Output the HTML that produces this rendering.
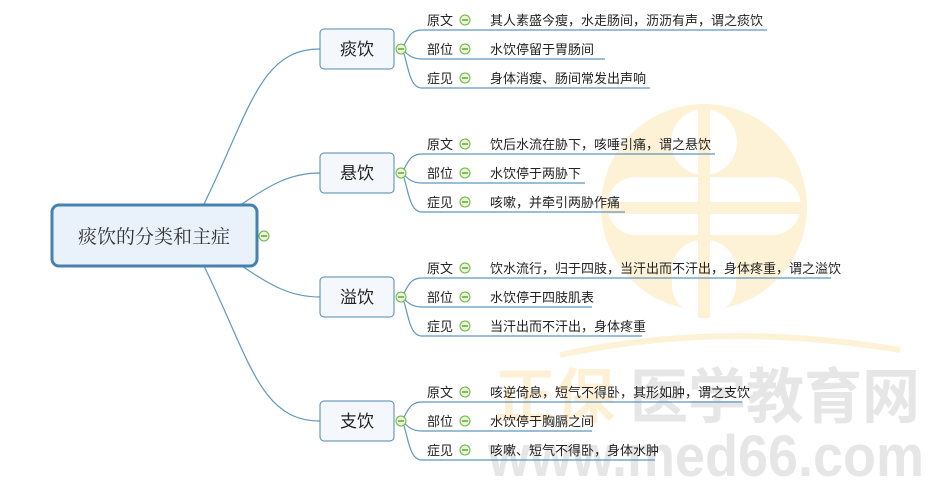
<!DOCTYPE html>
<html><head><meta charset="utf-8"><style>
html,body{margin:0;padding:0;background:#fff;}
svg{display:block;font-family:"Liberation Sans","Noto Sans CJK SC","WenQuanYi Zen Hei",sans-serif;}
</style></head><body>
<svg width="932" height="480" viewBox="0 0 932 480" xmlns="http://www.w3.org/2000/svg">
<g>
<circle cx="704" cy="207" r="103" fill="#fdf1d6"/>
<circle cx="704" cy="142" r="33" fill="#fff"/>
<rect x="607" y="177" width="194" height="58" rx="29" fill="#fff"/>
<rect x="672" y="240" width="64" height="75" rx="30" fill="#fff"/>
<rect x="698" y="108" width="12" height="210" fill="#fdf1d6"/>
<rect x="605" y="202" width="200" height="12" fill="#fdf1d6"/>
<path d="M560 355 Q720 320 900 350" stroke="#fdf1d6" stroke-width="6" fill="none"/>
<text x="495" y="418" font-size="60" fill="#fdf0d4" font-weight="bold" textLength="120" lengthAdjust="spacingAndGlyphs">正保</text>
<text x="630" y="418" font-size="60" fill="#e6e6e6" font-weight="bold" textLength="290" lengthAdjust="spacingAndGlyphs">医学教育网</text>
<text x="488" y="476" font-size="58" fill="#e6e6e6" font-weight="bold" textLength="436" lengthAdjust="spacingAndGlyphs">www.med66.com</text>
</g>
<g fill="none" stroke="#5e97bf" stroke-width="1.2">
<path d="M204 204 C250 110 260 49 320 49"/>
<path d="M242 204 C270 185 290 173 320 173"/>
<path d="M242 266 C270 285 290 297 320 297"/>
<path d="M204 266 C250 360 260 421 320 421"/>
</g>
<rect x="52" y="205" width="205" height="61" rx="7" fill="#e9f1fb" stroke="#4682b0" stroke-width="3"/>
<text x="154" y="243" font-size="19" fill="#333" text-anchor="middle" font-family="'Liberation Serif','Noto Serif CJK SC',serif">痰饮的分类和主症</text>
<g><circle cx="264" cy="236" r="5" fill="#e8f6d8" stroke="#6db33f"/><line x1="261" y1="236" x2="267" y2="236" stroke="#4a8a20" stroke-width="1.2"/></g>

<defs>
<g id="minus"><circle r="5" fill="#e8f6d8" stroke="#6db33f"/><line x1="-3" y1="0" x2="3" y2="0" stroke="#4a8a20" stroke-width="1.2"/></g>
</defs>

<g font-size="13" fill="#222">
<g transform="translate(0,0)">
<rect x="320" y="29" width="74" height="40" rx="4" fill="#f4f8fc" stroke="#4f86b3"/>
<text x="357" y="55" font-size="17" text-anchor="middle">痰饮</text>
<g fill="none" stroke="#5e97bf" stroke-width="1.2"><path d="M402 49 C408 38 410 30 422 30 H767"/><path d="M402 49 C408 55 412 59 422 59 H605"/><path d="M402 49 C408 60 408 88 422 88 H650"/></g>
<use href="#minus" x="401" y="49"/>
<text x="427" y="25">原文</text><use href="#minus" x="465" y="20"/><text x="490" y="25">其人素盛今瘦，水走肠间，沥沥有声，谓之痰饮</text>
<text x="427" y="54">部位</text><use href="#minus" x="465" y="49"/><text x="490" y="54">水饮停留于胃肠间</text>
<text x="427" y="83">症见</text><use href="#minus" x="465" y="78"/><text x="490" y="83">身体消瘦、肠间常发出声响</text>
</g>
<g transform="translate(0,124)">
<rect x="320" y="29" width="74" height="40" rx="4" fill="#f4f8fc" stroke="#4f86b3"/>
<text x="357" y="55" font-size="17" text-anchor="middle">悬饮</text>
<g fill="none" stroke="#5e97bf" stroke-width="1.2"><path d="M402 49 C408 38 410 30 422 30 H715"/><path d="M402 49 C408 55 412 59 422 59 H585"/><path d="M402 49 C408 60 408 88 422 88 H625"/></g>
<use href="#minus" x="401" y="49"/>
<text x="427" y="25">原文</text><use href="#minus" x="465" y="20"/><text x="490" y="25">饮后水流在胁下，咳唾引痛，谓之悬饮</text>
<text x="427" y="54">部位</text><use href="#minus" x="465" y="49"/><text x="490" y="54">水饮停于两胁下</text>
<text x="427" y="83">症见</text><use href="#minus" x="465" y="78"/><text x="490" y="83">咳嗽，并牵引两胁作痛</text>
</g>
<g transform="translate(0,248)">
<rect x="320" y="29" width="74" height="40" rx="4" fill="#f4f8fc" stroke="#4f86b3"/>
<text x="357" y="55" font-size="17" text-anchor="middle">溢饮</text>
<g fill="none" stroke="#5e97bf" stroke-width="1.2"><path d="M402 49 C408 38 410 30 422 30 H831"/><path d="M402 49 C408 55 412 59 422 59 H592"/><path d="M402 49 C408 60 408 88 422 88 H642"/></g>
<use href="#minus" x="401" y="49"/>
<text x="427" y="25">原文</text><use href="#minus" x="465" y="20"/><text x="490" y="25">饮水流行，归于四肢，当汗出而不汗出，身体疼重，谓之溢饮</text>
<text x="427" y="54">部位</text><use href="#minus" x="465" y="49"/><text x="490" y="54">水饮停于四肢肌表</text>
<text x="427" y="83">症见</text><use href="#minus" x="465" y="78"/><text x="490" y="83">当汗出而不汗出，身体疼重</text>
</g>
<g transform="translate(0,372)">
<rect x="320" y="29" width="74" height="40" rx="4" fill="#f4f8fc" stroke="#4f86b3"/>
<text x="357" y="55" font-size="17" text-anchor="middle">支饮</text>
<g fill="none" stroke="#5e97bf" stroke-width="1.2"><path d="M402 49 C408 38 410 30 422 30 H742"/><path d="M402 49 C408 55 412 59 422 59 H592"/><path d="M402 49 C408 60 408 88 422 88 H655"/></g>
<use href="#minus" x="401" y="49"/>
<text x="427" y="25">原文</text><use href="#minus" x="465" y="20"/><text x="490" y="25">咳逆倚息，短气不得卧，其形如肿，谓之支饮</text>
<text x="427" y="54">部位</text><use href="#minus" x="465" y="49"/><text x="490" y="54">水饮停于胸膈之间</text>
<text x="427" y="83">症见</text><use href="#minus" x="465" y="78"/><text x="490" y="83">咳嗽、短气不得卧，身体水肿</text>
</g>
</g>
</svg>
</body></html>
